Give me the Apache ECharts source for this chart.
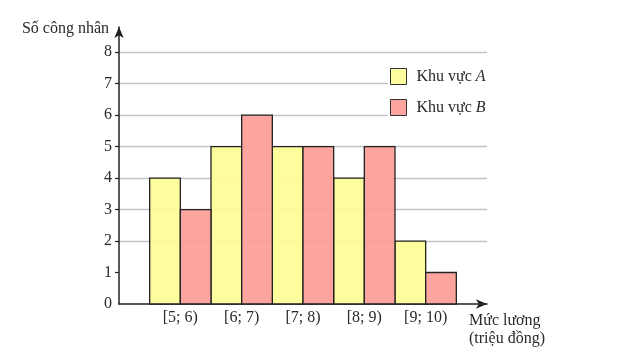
<!DOCTYPE html>
<html>
<head>
<meta charset="utf-8">
<script src="https://cdn.jsdelivr.net/npm/echarts@6/dist/echarts.min.js"></script>
<style>html,body{margin:0;padding:0;background:#fff}#c{width:623px;height:361px}</style>
</head>
<body>
<div id="c"></div>
<script>
const categories = ['[5; 6)', '[6; 7)', '[7; 8)', '[8; 9)', '[9; 10)'];
const areaA = [4, 5, 5, 4, 2];
const areaB = [3, 6, 5, 5, 1];
const yTickValues = [0, 1, 2, 3, 4, 5, 6, 7, 8];
const seriesNames = ['Khu vực A', 'Khu vực B'];
const yName = 'Số công nhân';
const xName = 'Mức lương\n(triệu đồng)';

const FONT = '"Liberation Serif", "DejaVu Serif", serif';
const TXT = '#2a2a2a';

// each group takes two unit-wide slots, starting one unit after the axis
const dataA = categories.map((c, i) => [2 * i + 1.5, areaA[i]]);
const dataB = categories.map((c, i) => [2 * i + 2.5, areaB[i]]);

function renderBar(params, api) {
  const x = api.value(0), y = api.value(1);
  const p1 = api.coord([x - 0.5, y]);
  const p2 = api.coord([x + 0.5, 0]);
  return {
    type: 'rect',
    shape: { x: p1[0], y: p1[1], width: p2[0] - p1[0], height: p2[1] - p1[1] },
    style: api.style()
  };
}

const chart = echarts.init(document.getElementById('c'), null, { renderer: 'canvas' });
chart.setOption({
  animation: false,
  backgroundColor: '#fff',
  textStyle: { fontFamily: FONT, color: TXT },
  grid: { left: 119, right: 136, top: 27, bottom: 57 },
  legend: {
    orient: 'vertical',
    left: 388,
    top: 60,
    padding: [8, 5, 8, 2],
    backgroundColor: '#fff',
    itemWidth: 16,
    itemHeight: 16,
    itemGap: 14,
    icon: 'rect',
    data: seriesNames,
    itemStyle: { borderColor: '#333', borderWidth: 1 },
    textStyle: {
      fontFamily: FONT, fontSize: 16, color: TXT, padding: [0, 0, 0, 5],
      rich: { i: { fontFamily: FONT, fontSize: 16, color: TXT, fontStyle: 'italic' } }
    },
    formatter: function (name) {
      const parts = name.split(' ');
      const last = parts.pop();
      return parts.join(' ') + ' {i|' + last + '}';
    }
  },
  xAxis: {
    type: 'value',
    min: 0,
    max: 12,
    interval: 2,
    name: xName,
    nameLocation: 'end',
    nameGap: -18,
    nameTextStyle: {
      fontFamily: FONT, fontSize: 16, color: TXT,
      align: 'left', verticalAlign: 'top', lineHeight: 18, padding: [8, 0, 0, 0]
    },
    axisLine: {
      show: true, onZero: false,
      lineStyle: { color: '#222', width: 1.5 },
      symbol: ['none', 'arrow'], symbolSize: [7, 11]
    },
    axisTick: { show: false },
    splitLine: { show: false },
    axisLabel: {
      fontFamily: FONT, fontSize: 16, color: TXT, margin: 6,
      formatter: function (v) { return categories[v / 2 - 1] || ''; }
    }
  },
  yAxis: {
    type: 'value',
    min: 0,
    max: 8.8,
    interval: 1,
    name: yName,
    nameLocation: 'end',
    nameGap: -2,
    nameTextStyle: {
      fontFamily: FONT, fontSize: 16, color: TXT,
      align: 'right', verticalAlign: 'middle', padding: [0, 10, 0, 0]
    },
    axisLine: {
      show: true,
      lineStyle: { color: '#222', width: 1.5 },
      symbol: ['none', 'arrow'], symbolSize: [7, 11]
    },
    axisTick: {
      show: true, length: 4, customValues: yTickValues.slice(1),
      lineStyle: { color: '#222', width: 1.2 }
    },
    axisLabel: {
      fontFamily: FONT, fontSize: 16, color: TXT, margin: 7,
      customValues: yTickValues
    },
    splitLine: {
      show: true, showMinLine: false, showMaxLine: true,
      lineStyle: { color: '#c4c4c4', width: 1.3 }
    }
  },
  series: [
    {
      name: seriesNames[0], type: 'custom', renderItem: renderBar,
      encode: { x: 0, y: 1 },
      itemStyle: { color: 'rgba(253,253,150,0.92)', borderColor: '#222', borderWidth: 1.3 },
      data: dataA
    },
    {
      name: seriesNames[1], type: 'custom', renderItem: renderBar,
      encode: { x: 0, y: 1 },
      itemStyle: { color: 'rgba(252,156,150,0.92)', borderColor: '#222', borderWidth: 1.3 },
      data: dataB
    }
  ]
});
</script>
</body>
</html>
